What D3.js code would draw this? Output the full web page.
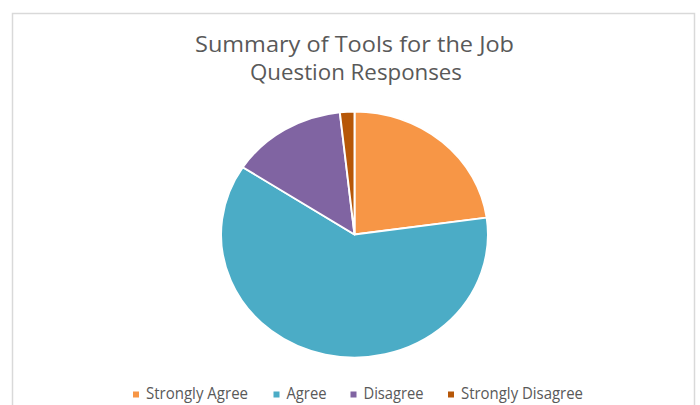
<!DOCTYPE html>
<html>
<head>
<meta charset="utf-8">
<script src="https://cdn.jsdelivr.net/npm/d3@7"></script>
<style>
  html, body { margin: 0; padding: 0; background: #ffffff; }
  svg { display: block; }
  text { font-family: "Open Sans", "Noto Sans", sans-serif; fill: #595959; }
</style>
</head>
<body>
<svg id="chart" width="700" height="405"></svg>
<script>
// ---- data ----
const categories = ["Strongly Agree", "Agree", "Disagree", "Strongly Disagree"];
const values = [13, 35, 8, 1];
const colors = ["#F79646", "#4BACC6", "#8064A2", "#B65708"];
const titleLines = ["Summary of Tools for the Job", "Question Responses"];

const W = 700, H = 405;
const svg = d3.select("#chart");

// chart area border
svg.append("rect")
  .attr("x", 12.5).attr("y", 13.5)
  .attr("width", 682).attr("height", 420)
  .attr("fill", "#ffffff")
  .attr("stroke", "#d9d9d9").attr("stroke-width", 1.5);

// title (fitted to the reference's horizontally stretched text)
const titleFit = [{ x0: 195, x1: 514, y: 52 }, { x0: 250, x1: 462, y: 80 }];
titleLines.forEach((t, i) => {
  const f = titleFit[i];
  svg.append("text")
    .attr("x", f.x0).attr("y", f.y)
    .attr("font-size", 22)
    .attr("textLength", f.x1 - f.x0)
    .attr("lengthAdjust", "spacingAndGlyphs")
    .text(t);
});

// pie
const cx = 354.5, cy = 234.5, R = 123, stretch = 1.085;
const pie = d3.pie().sort(null).value(d => d.v);
const arc = d3.arc().innerRadius(0).outerRadius(R);
const data = categories.map((c, i) => ({ c, v: values[i], col: colors[i] }));
const g = svg.append("g").attr("transform", `translate(${cx},${cy}) scale(${stretch},1)`);
g.selectAll("path")
  .data(pie(data))
  .join("path")
  .attr("d", arc)
  .attr("fill", d => d.data.col)
  .attr("stroke", "#ffffff")
  .attr("stroke-width", 1.8)
  .attr("stroke-linejoin", "round");

// legend
const leg = svg.append("g");
const fs = 16;
const legendSquareX = [133, 273.5, 350.5, 448];
const legendTextEnd = [248, 326.5, 423.5, 583];
const sq = 6, gapSq = 7, baseY = 399;
categories.forEach((c, i) => {
  const x = legendSquareX[i];
  leg.append("rect")
    .attr("x", x).attr("y", 391.5)
    .attr("width", sq).attr("height", sq)
    .attr("fill", colors[i]);
  leg.append("text")
    .attr("x", x + sq + gapSq).attr("y", baseY)
    .attr("font-size", fs)
    .attr("textLength", legendTextEnd[i] - (x + sq + gapSq))
    .attr("lengthAdjust", "spacingAndGlyphs")
    .text(c);
});
</script>
</body>
</html>
